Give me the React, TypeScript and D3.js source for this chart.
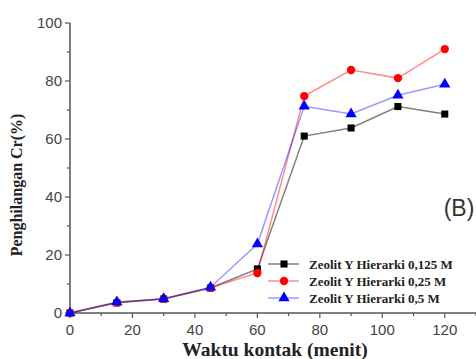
import React, { useEffect, useRef } from "react";
import * as d3 from "d3";

// contact time (minutes)
const times = [0, 15, 30, 45, 60, 75, 90, 105, 120];
// Cr removal (%) per zeolite concentration
const series0125 = [0, 3.5, 4.8, 8.6, 15.2, 61, 63.8, 71.2, 68.6];
const series025 = [0, 3.6, 4.9, 8.7, 13.8, 74.8, 83.8, 81, 91];
const series05 = [0, 3.8, 4.9, 8.9, 23.8, 71.3, 68.6, 75.1, 78.9];
const seriesNames = [
  "Zeolit Y Hierarki  0,125 M",
  "Zeolit Y Hierarki  0,25 M",
  "Zeolit Y Hierarki  0,5 M",
];
const xTicks = [0, 20, 40, 60, 80, 100, 120];
const yTicks = [0, 20, 40, 60, 80, 100];

const App = () => {
  const ref = useRef<SVGSVGElement>(null);

  useEffect(() => {
    const width = 476;
    const svg = d3.select(ref.current);
    svg.selectAll("*").remove();

    const x = d3.scaleLinear().domain([0, 130]).range([70, 476]);
    const y = d3.scaleLinear().domain([0, 100]).range([313, 23]);

    const series = [
      { name: seriesNames[0], values: series0125, color: "#000000", line: "rgba(0,0,0,0.5)", shape: d3.symbolSquare, size: 50 },
      { name: seriesNames[1], values: series025, color: "#ff0000", line: "rgba(255,0,0,0.45)", shape: d3.symbolCircle, size: 55 },
      { name: seriesNames[2], values: series05, color: "#0000ff", line: "rgba(0,0,255,0.4)", shape: d3.symbolTriangle, size: 55 },
    ];

    const axisColor = "#555";

    // x axis
    const gx = svg.append("g").attr("transform", `translate(0,${y(0)})`);
    gx.append("line").attr("x1", x(0)).attr("x2", width).attr("stroke", axisColor).attr("stroke-width", 1.5);
    gx.selectAll("line.minor")
      .data(d3.range(10, 131, 20))
      .enter().append("line")
      .attr("x1", d => x(d)).attr("x2", d => x(d))
      .attr("y1", 0).attr("y2", 3)
      .attr("stroke", axisColor).attr("stroke-width", 1.2);
    gx.selectAll("line.major")
      .data(xTicks)
      .enter().append("line")
      .attr("x1", d => x(d)).attr("x2", d => x(d))
      .attr("y1", 0).attr("y2", 5)
      .attr("stroke", axisColor).attr("stroke-width", 1.2);
    gx.selectAll("text")
      .data(xTicks)
      .enter().append("text")
      .attr("x", d => x(d)).attr("y", 22)
      .attr("text-anchor", "middle")
      .attr("font-family", "Liberation Sans, Arial, sans-serif")
      .attr("font-size", 15)
      .attr("fill", "#444")
      .text(d => d);

    // y axis
    const gy = svg.append("g").attr("transform", `translate(${x(0)},0)`);
    gy.append("line").attr("y1", y(0)).attr("y2", y(100)).attr("stroke", axisColor).attr("stroke-width", 1.5);
    gy.selectAll("line.minor")
      .data(d3.range(10, 100, 20))
      .enter().append("line")
      .attr("y1", d => y(d)).attr("y2", d => y(d))
      .attr("x1", 0).attr("x2", -3)
      .attr("stroke", axisColor).attr("stroke-width", 1.2);
    gy.selectAll("line.major")
      .data(yTicks)
      .enter().append("line")
      .attr("y1", d => y(d)).attr("y2", d => y(d))
      .attr("x1", 0).attr("x2", -5)
      .attr("stroke", axisColor).attr("stroke-width", 1.2);
    gy.selectAll("text")
      .data(yTicks)
      .enter().append("text")
      .attr("x", -8).attr("y", d => y(d))
      .attr("dy", "0.36em")
      .attr("text-anchor", "end")
      .attr("font-family", "Liberation Sans, Arial, sans-serif")
      .attr("font-size", 15)
      .attr("fill", "#444")
      .text(d => d);

    // axis titles
    svg.append("text")
      .attr("transform", `translate(22,185) rotate(-90)`)
      .attr("text-anchor", "middle")
      .attr("font-family", "Liberation Serif, Times New Roman, serif")
      .attr("font-weight", "bold")
      .attr("font-size", 16)
      .attr("fill", "#222")
      .text("Penghilangan Cr(%)");
    svg.append("text")
      .attr("x", 275).attr("y", 356)
      .attr("text-anchor", "middle")
      .attr("font-family", "Liberation Serif, Times New Roman, serif")
      .attr("font-weight", "bold")
      .attr("font-size", 19.5)
      .attr("fill", "#222")
      .text("Waktu kontak (menit)");

    // lines + markers
    const line = d3.line<number>().x((_, i) => x(times[i])).y(d => y(d));
    series.forEach(s => {
      svg.append("path")
        .attr("d", line(s.values))
        .attr("fill", "none")
        .attr("stroke", s.line)
        .attr("stroke-width", 1.5);
    });
    series.forEach(s => {
      svg.append("g").selectAll("path")
        .data(s.values)
        .enter().append("path")
        .attr("transform", (d, i) => `translate(${x(times[i])},${y(d)})`)
        .attr("d", d3.symbol().type(s.shape).size(s.size)())
        .attr("fill", s.color);
    });

    // panel label
    svg.append("text")
      .attr("x", 459).attr("y", 216)
      .attr("text-anchor", "middle")
      .attr("font-family", "Liberation Sans, Arial, sans-serif")
      .attr("font-size", 23)
      .attr("fill", "#333")
      .text("(B)");

    // legend
    const legend = svg.append("g");
    series.forEach((s, i) => {
      const ly = 264 + i * 17;
      legend.append("line")
        .attr("x1", 268).attr("x2", 299).attr("y1", ly).attr("y2", ly)
        .attr("stroke", s.line).attr("stroke-width", 1.5);
      legend.append("path")
        .attr("transform", `translate(284,${ly})`)
        .attr("d", d3.symbol().type(s.shape).size(s.size)())
        .attr("fill", s.color);
      legend.append("text")
        .attr("x", 309).attr("y", ly)
        .attr("dy", "0.35em")
        .attr("font-family", "Liberation Serif, Times New Roman, serif")
        .attr("font-weight", "bold")
        .attr("font-size", 13)
        .attr("fill", "#222")
        .text(s.name);
    });
  }, []);

  return (
    <div style={{ position: "absolute", left: 0, top: 0 }}>
      <svg ref={ref} width={476} height={359} style={{ display: "block", background: "#fff" }}></svg>
    </div>
  );
};

export default App;
